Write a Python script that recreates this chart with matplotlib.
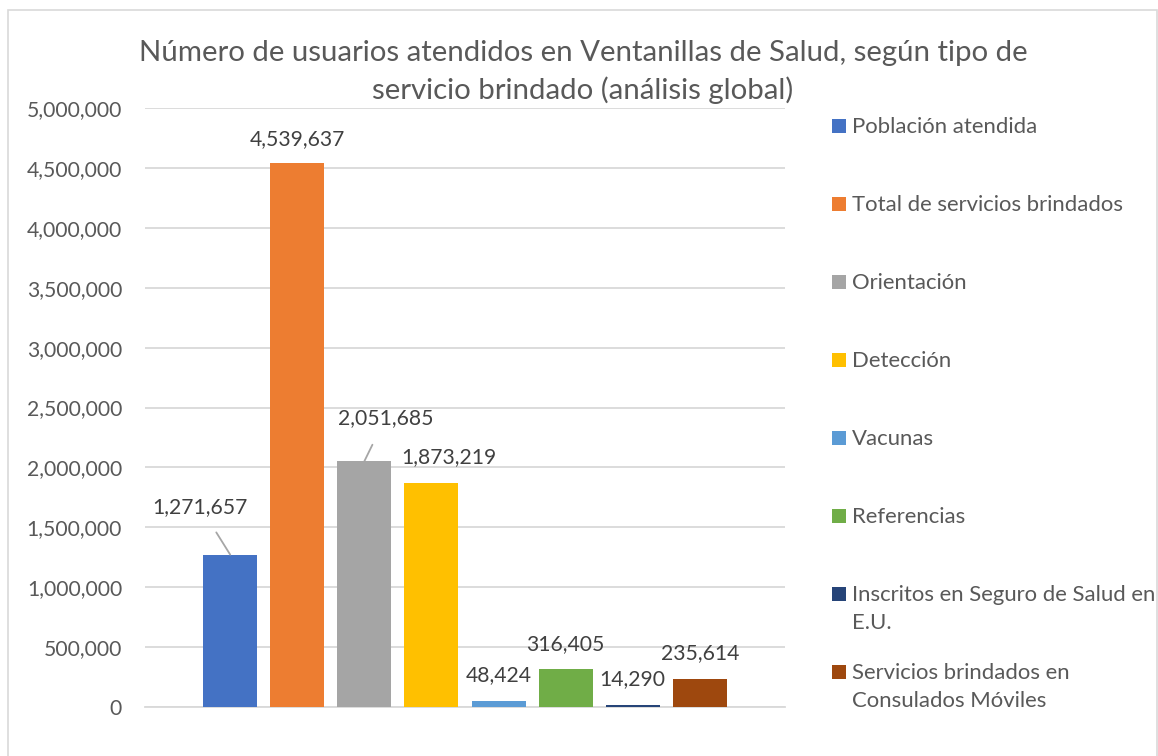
import matplotlib
matplotlib.use("Agg")
import matplotlib.pyplot as plt
from matplotlib.patches import Rectangle
from matplotlib.ticker import FuncFormatter, MultipleLocator
import numpy as np

plt.rcParams['font.family'] = ['Lato', 'DejaVu Sans']

categories = ['Población atendida', 'Total de servicios brindados', 'Orientación',
              'Detección', 'Vacunas', 'Referencias',
              'Inscritos en Seguro de Salud en\nE.U.',
              'Servicios brindados en\nConsulados Móviles']
values = [1271657, 4539637, 2051685, 1873219, 48424, 316405, 14290, 235614]
colors = ['#4472C4', '#ED7D31', '#A5A5A5', '#FFC000', '#5B9BD5', '#70AD47',
          '#264478', '#9E480E']
title = 'Número de usuarios atendidos en Ventanillas de Salud, según tipo de\nservicio brindado (análisis global)'

# label offsets in pixels (some labels pushed aside, with leader lines)
label_off = [(-30, 48), (0, 24), (21, 43), (17, 25), (0, 26), (0, 25), (0, 26), (0, 26)]
leader = [True, False, True, False, False, False, False, False]

fig = plt.figure(figsize=(11.58, 7.56), dpi=100)
fig.patches.append(Rectangle((8 / 1158, -0.05), 1149 / 1158, 1.05 - 9.5 / 756,
                             transform=fig.transFigure, fill=False,
                             edgecolor='#D9D9D9', linewidth=1.2))
ax = fig.add_axes([145 / 1158, 1 - 707 / 756, 640 / 1158, 599 / 756])

x = np.arange(len(values))
ax.bar(x, values, width=0.805, color=colors, zorder=3)

ax.set_xlim(3.5 - 4.77, 3.5 + 4.77)
ax.set_ylim(0, 5000000)
ax.yaxis.set_major_locator(MultipleLocator(500000))
ax.yaxis.set_major_formatter(FuncFormatter(lambda v, p: f'{int(v):,}'))
ax.grid(axis='y', color='#D9D9D9', linewidth=1.3, zorder=0)
ax.set_xticks([])
for s in ['top', 'right', 'left']:
    ax.spines[s].set_visible(False)
ax.spines['bottom'].set_color('#D9D9D9')
ax.spines['bottom'].set_linewidth(1.3)
ax.tick_params(axis='y', length=0, pad=16.5, labelsize=15.2, labelcolor='#595959')

for i, v in enumerate(values):
    dx, dy = label_off[i]
    props = None
    if leader[i]:
        props = dict(arrowstyle='-', color='#A6A6A6', linewidth=1.3,
                     shrinkA=11, shrinkB=0)
    ax.annotate(f'{v:,}', xy=(x[i], v), xytext=(dx, dy), textcoords='offset pixels',
                ha='center', va='center', fontsize=15.2, color='#404040',
                arrowprops=props, zorder=5)

fig.text(583 / 1158, 1 - 72 / 756, title, ha='center', va='center', fontsize=21.2,
         color='#595959', linespacing=1.45)

# legend drawn by hand (Excel-style spacing)
for i, (lab, c) in enumerate(zip(categories, colors)):
    yc = 126 + i * 78.0
    fig.patches.append(Rectangle((832 / 1158, 1 - (yc + 7) / 756), 14 / 1158, 14 / 756,
                                 transform=fig.transFigure, facecolor=c, edgecolor='none'))
    fig.text(852 / 1158, 1 - (yc - 9) / 756, lab, ha='left', va='top', fontsize=15.9,
             color='#595959', linespacing=1.5)

fig.savefig('out.png', dpi=100)
